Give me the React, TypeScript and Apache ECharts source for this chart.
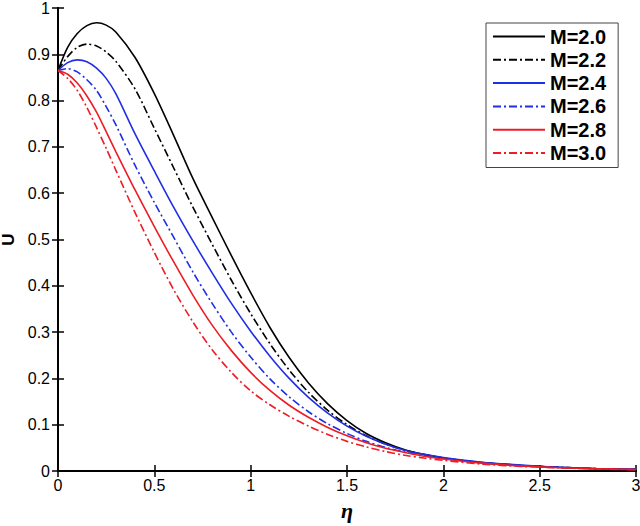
import React, { useEffect, useRef } from "react";
import * as echarts from "echarts";

const etaValues = [0, 0.05, 0.1, 0.15, 0.2, 0.25, 0.3, 0.4, 0.5, 0.6, 0.7, 0.8, 0.9, 1.0, 1.1, 1.2, 1.3, 1.4, 1.5, 1.6, 1.7, 1.8, 1.9, 2.0, 2.2, 2.4, 2.6, 2.8, 3.0];

const uM20 = [0.865, 0.915, 0.945, 0.962, 0.968, 0.963, 0.948, 0.893, 0.815, 0.725, 0.632, 0.548, 0.465, 0.385, 0.31, 0.245, 0.19, 0.145, 0.109, 0.081, 0.061, 0.046, 0.036, 0.028, 0.018, 0.012, 0.008, 0.005, 0.003];
const uM22 = [0.865, 0.895, 0.915, 0.922, 0.918, 0.905, 0.885, 0.825, 0.74, 0.655, 0.57, 0.49, 0.412, 0.34, 0.275, 0.218, 0.17, 0.131, 0.1, 0.076, 0.058, 0.045, 0.035, 0.028, 0.018, 0.012, 0.008, 0.005, 0.003];
const uM24 = [0.865, 0.882, 0.888, 0.884, 0.87, 0.848, 0.815, 0.728, 0.648, 0.57, 0.497, 0.428, 0.362, 0.302, 0.248, 0.2, 0.159, 0.125, 0.097, 0.075, 0.058, 0.045, 0.036, 0.029, 0.019, 0.013, 0.008, 0.005, 0.004];
const uM26 = [0.865, 0.869, 0.862, 0.845, 0.822, 0.787, 0.748, 0.66, 0.58, 0.505, 0.43, 0.362, 0.3, 0.246, 0.199, 0.16, 0.128, 0.102, 0.081, 0.064, 0.051, 0.041, 0.033, 0.027, 0.018, 0.012, 0.008, 0.005, 0.004];
const uM28 = [0.865, 0.857, 0.838, 0.81, 0.775, 0.733, 0.69, 0.607, 0.528, 0.452, 0.38, 0.315, 0.26, 0.213, 0.174, 0.142, 0.116, 0.094, 0.076, 0.061, 0.049, 0.04, 0.032, 0.026, 0.017, 0.011, 0.007, 0.005, 0.003];
const uM30 = [0.865, 0.848, 0.822, 0.785, 0.742, 0.697, 0.65, 0.558, 0.472, 0.392, 0.322, 0.262, 0.213, 0.173, 0.143, 0.118, 0.097, 0.079, 0.064, 0.052, 0.042, 0.034, 0.028, 0.023, 0.015, 0.01, 0.007, 0.004, 0.003];

const seriesNames = ["M=2.0", "M=2.2", "M=2.4", "M=2.6", "M=2.8", "M=3.0"];
const xTickLabels = ["0", "0.5", "1", "1.5", "2", "2.5", "3"];

const black = "#000000";
const blue = "#1f2fe6";
const red = "#ee1c25";
const dashDot: number[] = [8, 3, 2, 3];

const App: React.FC = () => {
    const chartRef = useRef<HTMLDivElement>(null);

    useEffect(() => {
        if (!chartRef.current) return;
        const chart = echarts.init(chartRef.current, null, { renderer: "svg" });

        const allValues = [uM20, uM22, uM24, uM26, uM28, uM30];
        const colors = [black, black, blue, blue, red, red];

        const axisFont = {
            color: "#000",
            fontSize: 16,
            fontFamily: "Liberation Sans, Arial, sans-serif",
        };
        const frameLine = { show: true, lineStyle: { color: "#000", width: 2 } };
        const innerTick = { show: true, inside: true, length: 6, lineStyle: { color: "#000", width: 1.5 } };

        chart.setOption({
            animation: false,
            backgroundColor: "#fff",
            grid: { left: 58, right: 4, top: 8, bottom: 55, outerBoundsMode: "none" },
            legend: {
                orient: "vertical",
                left: 486,
                top: 23,
                padding: [2, 12, 3, 6],
                itemWidth: 52,
                itemHeight: 14,
                itemGap: 0.3,
                backgroundColor: "#fff",
                borderColor: "#444",
                borderWidth: 1,
                itemStyle: { opacity: 0 },
                lineStyle: { width: 2 },
                textStyle: {
                    color: "#000",
                    fontSize: 20,
                    lineHeight: 23,
                    fontWeight: "bold",
                    fontFamily: "Liberation Sans, Arial, sans-serif",
                },
                data: seriesNames,
            },
            xAxis: [
                {
                    type: "value",
                    min: 0,
                    max: 3,
                    interval: 0.5,
                    name: "η",
                    nameLocation: "middle",
                    nameGap: 28,
                    nameTextStyle: {
                        color: "#000",
                        fontSize: 22,
                        fontStyle: "italic",
                        fontWeight: "bold",
                        fontFamily: "Liberation Serif, Times New Roman, serif",
                    },
                    axisLine: frameLine,
                    axisTick: innerTick,
                    axisLabel: {
                        ...axisFont,
                        margin: 6,
                        formatter: (v: number) => xTickLabels[Math.round(v / 0.5)] ?? "",
                    },
                    splitLine: { show: false },
                },
                {
                    type: "value",
                    position: "top",
                    min: 0,
                    max: 3,
                    interval: 0.5,
                    axisLine: frameLine,
                    axisTick: innerTick,
                    axisLabel: { show: false },
                    splitLine: { show: false },
                },
            ],
            yAxis: [
                {
                    type: "value",
                    min: 0,
                    max: 1,
                    interval: 0.1,
                    name: "U",
                    nameLocation: "middle",
                    nameGap: 40,
                    nameRotate: 90,
                    nameTextStyle: {
                        color: "#000",
                        fontSize: 17,
                        fontWeight: "bold",
                        fontFamily: "Liberation Sans, Arial, sans-serif",
                    },
                    axisLine: frameLine,
                    axisTick: innerTick,
                    axisLabel: {
                        ...axisFont,
                        margin: 8,
                        formatter: (v: number) => (Math.abs(v - 1) < 1e-9 ? "1" : v === 0 ? "0" : v.toFixed(1)),
                    },
                    splitLine: { show: false },
                },
                {
                    type: "value",
                    position: "right",
                    min: 0,
                    max: 1,
                    interval: 0.1,
                    axisLine: frameLine,
                    axisTick: innerTick,
                    axisLabel: { show: false },
                    splitLine: { show: false },
                },
            ],
            series: seriesNames.map((name, i) => ({
                name,
                type: "line",
                xAxisIndex: 0,
                yAxisIndex: 0,
                smooth: 0.3,
                symbol: "none",
                data: etaValues.map((x, j) => [x, allValues[i][j]]),
                lineStyle: {
                    color: colors[i],
                    width: 1.6,
                    type: i % 2 === 1 ? dashDot : "solid",
                },
                itemStyle: { color: colors[i] },
            })),
        });

        return () => {
            chart.dispose();
        };
    }, []);

    return (
        <div
            ref={chartRef}
            style={{ position: "fixed", left: 0, top: 0, width: 640, height: 526, backgroundColor: "#fff" }}
        />
    );
};

export default App;
